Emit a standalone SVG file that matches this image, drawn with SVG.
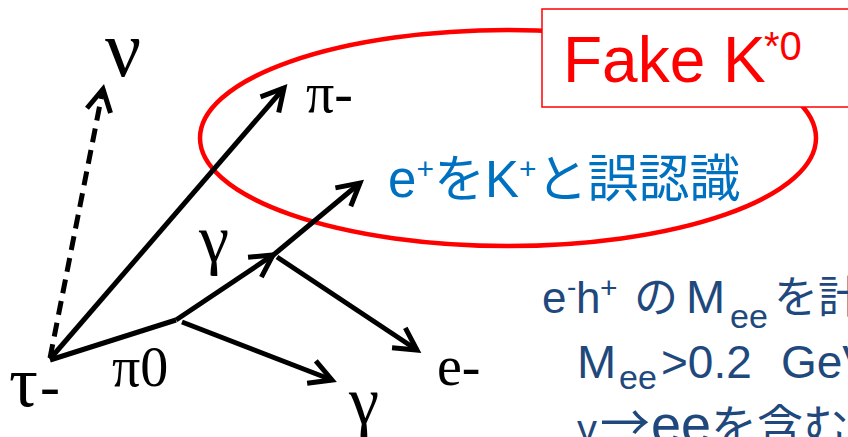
<svg xmlns="http://www.w3.org/2000/svg" width="848" height="437" viewBox="0 0 848 437">
<style>
.greek{font-family:"Liberation Serif","DejaVu Serif",serif;fill:#000}
.arr{fill:none;stroke:#000;stroke-width:5;stroke-linecap:butt}
.dash{stroke-dasharray:14 8}
.jp{font-family:"Liberation Sans","Noto Sans CJK JP",sans-serif}
.note{fill:#1f497d}
</style>
<defs>
<marker id="head" markerUnits="userSpaceOnUse" viewBox="-30 -20 40 40" markerWidth="40" markerHeight="40" refX="0" refY="0" orient="auto" overflow="visible">
<path d="M -22 -12 L 0 0 L -22 12" fill="none" stroke="#000" stroke-width="5" stroke-dasharray="none" stroke-linejoin="miter"/>
</marker>
</defs>
<rect width="848" height="437" fill="#fff"/>
<g id="ellipse">
<ellipse cx="508" cy="138" rx="308" ry="108" fill="none" stroke="#ff0000" stroke-width="4.5"/>
</g>
<g id="fakebox">
<rect x="542" y="9" width="320" height="98" fill="#fff" stroke="#ff0000" stroke-width="1.5"/>
<text x="563" y="82" class="jp" font-size="64" fill="#ff0000">Fake K<tspan x="764" y="60" font-size="40">*0</tspan></text>
</g>
<g id="connectors">
<line class="arr dash" x1="50" y1="358" x2="103" y2="89" marker-end="url(#head)"/>
<line class="arr" x1="50" y1="359" x2="284" y2="88" marker-end="url(#head)"/>
<line class="arr" x1="50" y1="360" x2="176" y2="320"/>
<line class="arr" x1="176" y1="320" x2="273" y2="255" marker-end="url(#head)"/>
<line class="arr" x1="271" y1="257" x2="360" y2="183" marker-end="url(#head)"/>
<line class="arr" x1="277" y1="257" x2="417" y2="350" marker-end="url(#head)"/>
<line class="arr" x1="182" y1="322" x2="332" y2="380" marker-end="url(#head)"/>
</g>
<g id="tau"><text x="9" y="406" class="greek" font-size="72">τ<tspan font-size="60" dx="2">-</tspan></text></g>
<g id="nu"><text x="105" y="76" class="greek" font-size="80">ν</text></g>
<g id="piminus"><text x="306" y="112" class="greek" font-size="56">π-</text></g>
<g id="pi0"><text x="112" y="386" class="greek" font-size="56">π0</text></g>
<g id="gamma1"><text x="199" y="262" class="greek" font-size="68">γ</text></g>
<g id="gamma2"><text x="349" y="424" class="greek" font-size="68">γ</text></g>
<g id="eminus"><text x="437" y="385" class="greek" font-size="56">e-</text></g>
<g id="misid">
<text x="388" y="197" class="jp" font-size="51" fill="#0070c0">e<tspan font-size="30" dy="-18">+</tspan><tspan dy="18">をK</tspan><tspan font-size="30" dy="-18">+</tspan><tspan dy="18">と誤認識</tspan></text>
</g>
<g id="note">
<text y="313" class="jp note" font-size="44"><tspan x="542">e</tspan><tspan x="567" y="296" font-size="28">-</tspan><tspan x="576" y="313">h</tspan><tspan x="600" y="298" font-size="30">+</tspan><tspan x="634" y="313">の</tspan><tspan x="686" font-size="47">M</tspan><tspan x="730" y="328" font-size="34">ee</tspan><tspan x="774" y="313">を計算</tspan></text>
<text y="378" class="jp note" font-size="44"><tspan x="577" font-size="47">M</tspan><tspan x="619" y="389" font-size="34">ee</tspan><tspan x="661" y="378" font-size="46">&gt;0.2 </tspan><tspan x="781" font-size="46">GeV</tspan></text>
<text y="443" class="jp note" font-size="46"><tspan x="577" font-size="40">γ</tspan><tspan x="600" y="441" font-family="Noto Sans CJK JP" font-size="50">→</tspan><tspan x="651" y="443" font-size="54">ee</tspan><tspan x="711">を含む</tspan></text>
</g>
</svg>
